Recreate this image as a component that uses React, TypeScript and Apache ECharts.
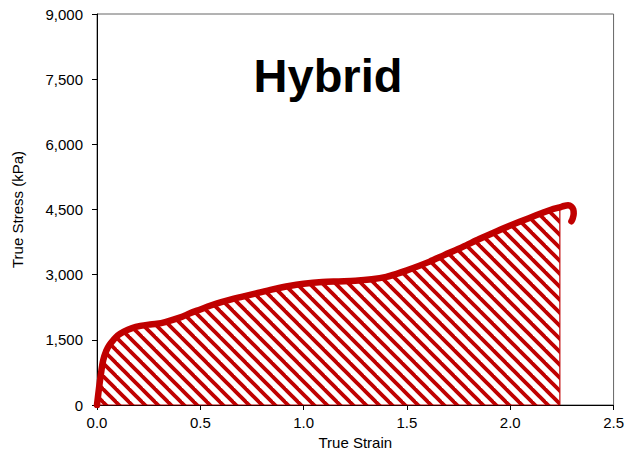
import React, { useEffect, useRef } from "react";
import * as echarts from "echarts";

// True strain / true stress (kPa)
const strain = [
  0, 0.01, 0.02, 0.03, 0.045, 0.06, 0.08, 0.1, 0.13, 0.17, 0.21, 0.25, 0.29, 0.33,
  0.4, 0.45, 0.5, 0.55, 0.61, 0.7, 0.77, 0.85, 0.93, 1.0, 1.09, 1.17, 1.25, 1.33,
  1.4, 1.45, 1.5, 1.56, 1.61, 1.68, 1.77, 1.85, 1.93, 2.0, 2.09, 2.16, 2.2, 2.24,
  2.26, 2.28, 2.295, 2.305, 2.307, 2.302, 2.296,
];
const stress = [
  0, 400, 750, 1030, 1250, 1380, 1500, 1600, 1690, 1770, 1820, 1850, 1870, 1910,
  2010, 2110, 2200, 2290, 2380, 2490, 2570, 2660, 2740, 2790, 2830, 2845, 2860, 2895,
  2950, 3020, 3100, 3205, 3300, 3450, 3640, 3820, 3990, 4130, 4300, 4430, 4500, 4550,
  4580, 4595, 4570, 4500, 4400, 4290, 4230,
];
// strain at which the hatched (toughness) area ends
const fillEnd = 2.24;

const xTicks = { min: 0, max: 2.5, interval: 0.5 };
const yTicks = { min: 0, max: 9000, interval: 1500 };

const RED = "#c00000";
const FONT = "'Liberation Sans', Arial, sans-serif";

function makeHatch(): string {
  const s = 13;
  const c = document.createElement("canvas");
  c.width = s;
  c.height = s;
  const ctx = c.getContext("2d")!;
  ctx.fillStyle = "#ffffff";
  ctx.fillRect(0, 0, s, s);
  ctx.strokeStyle = RED;
  ctx.lineWidth = 3.8;
  for (const off of [-s, 0, s]) {
    ctx.beginPath();
    ctx.moveTo(off - 2, -2);
    ctx.lineTo(off + s + 2, s + 2);
    ctx.stroke();
  }
  return c.toDataURL();
}

export default function App() {
  const ref = useRef<HTMLDivElement>(null);
  useEffect(() => {
    if (!ref.current) return;
    const chart = echarts.init(ref.current, null, { renderer: "svg" });
    const curve = strain.map((x, i) => [x, stress[i]]);
    const area = curve.filter((p) => p[0] <= fillEnd);
    const last = area[area.length - 1];
    const areaData = [...area, [last[0], 0], [0, 0]];

    chart.setOption({
      animation: false,
      backgroundColor: "#ffffff",
      grid: {
        left: 97,
        right: 12,
        top: 14,
        bottom: 51,
        show: true,
        borderColor: "#666666",
        borderWidth: 1,
        containLabel: false,
      },
      xAxis: {
        type: "value",
        ...xTicks,
        name: "True Strain",
        nameLocation: "middle",
        nameGap: 30,
        nameTextStyle: { color: "#000", fontSize: 15, fontFamily: FONT },
        axisLine: { show: true, lineStyle: { color: "#000", width: 1 } },
        axisTick: { show: true, inside: false, length: 5, lineStyle: { color: "#000" } },
        axisLabel: {
          color: "#000",
          fontSize: 15,
          fontFamily: FONT,
          margin: 10,
          formatter: (v: number) => v.toFixed(1),
        },
        splitLine: { show: false },
      },
      yAxis: {
        type: "value",
        ...yTicks,
        name: "True Stress (kPa)",
        nameLocation: "middle",
        nameGap: 72,
        nameTextStyle: { color: "#000", fontSize: 15, fontFamily: FONT },
        axisLine: { show: true, lineStyle: { color: "#000", width: 1 } },
        axisTick: { show: true, inside: false, length: 5, lineStyle: { color: "#000" } },
        axisLabel: {
          color: "#000",
          fontSize: 15,
          fontFamily: FONT,
          margin: 14,
          formatter: (v: number) => v.toLocaleString("en-US"),
        },
        splitLine: { show: false },
      },
      graphic: [
        {
          type: "text",
          x: 328,
          y: 75,
          style: {
            text: "Hybrid",
            fontSize: 47,
            fontWeight: "bold",
            fontFamily: FONT,
            fill: "#000",
            textAlign: "center",
            textVerticalAlign: "middle",
          },
        },
      ],
      series: [
        {
          type: "line",
          data: areaData,
          symbol: "none",
          lineStyle: { color: RED, width: 1.2 },
          areaStyle: {
            color: { image: makeHatch(), repeat: "repeat", imageWidth: 13, imageHeight: 13 },
            opacity: 1,
          },
          z: 2,
        },
        {
          type: "line",
          data: curve,
          symbol: "none",
          smooth: 0.3,
          lineStyle: { color: RED, width: 6.5, cap: "round", join: "round" },
          z: 3,
        },
      ],
    });
    return () => chart.dispose();
  }, []);
  return (
    <div
      ref={ref}
      style={{ position: "fixed", left: 0, top: 0, width: 627, height: 456 }}
    />
  );
}
